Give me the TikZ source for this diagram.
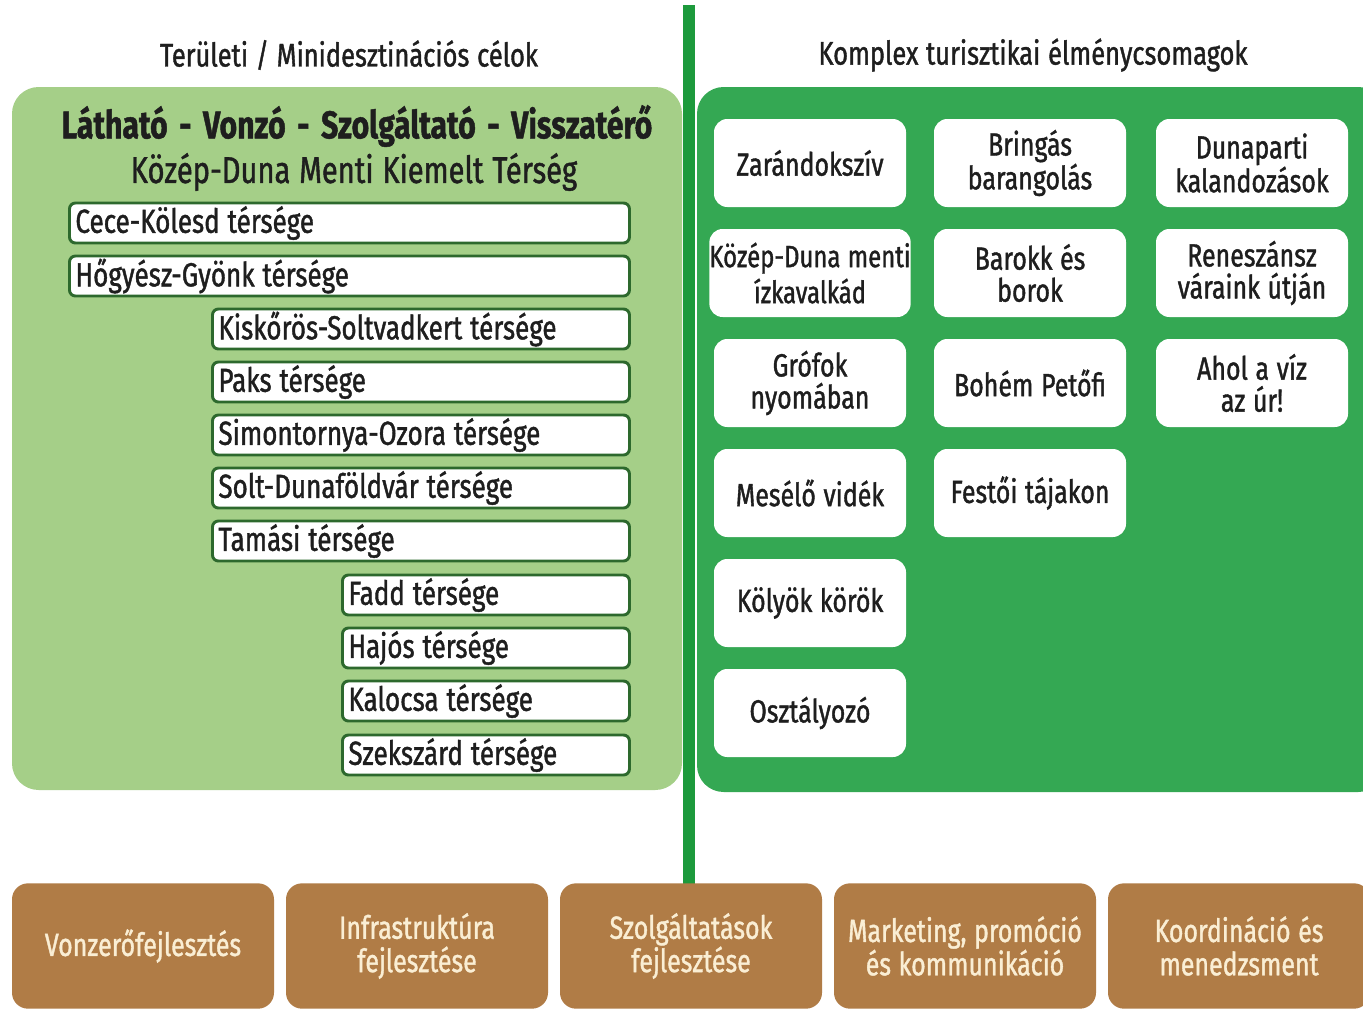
\documentclass[tikz,border=0pt]{standalone}
\usepackage{fontspec}
\setmainfont{Fira Sans}[FakeStretch=0.78, FakeBold=1.2, WordSpace=1.15]
\definecolor{lightpanel}{RGB}{165,207,136}
\definecolor{darkpanel}{RGB}{52,168,83}
\definecolor{divider}{RGB}{29,154,60}
\definecolor{boxrim}{RGB}{45,105,45}
\definecolor{pillarbrown}{RGB}{176,124,70}
\definecolor{pillartext}{RGB}{250,238,212}
\definecolor{ink}{RGB}{30,30,30}
\newcommand{\mottodash}{\hspace{2.5pt} - \hspace{2.5pt}}
\tikzset{
  coltitle/.style={text=ink, font=\fontsize{24.5}{26}\selectfont},
  areabox/.style={draw=boxrim, line width=2.2pt, fill=white, rounded corners=4.5pt,
    anchor=west, minimum height=30pt, inner xsep=4.5pt, inner ysep=0pt,
    text=ink, align=flush left, font=\fontsize{25}{26}\selectfont},
  pkgbox/.style={fill=white, rounded corners=10pt, minimum width=144pt, minimum height=66pt,
    inner sep=0pt, text=ink, align=center, font=\fontsize{24}{24}\selectfont},
  pillar/.style={fill=pillarbrown, rounded corners=12pt, minimum width=196.5pt, minimum height=94pt,
    inner sep=0pt, text=pillartext, align=center, font=\fontsize{24}{25}\selectfont}
}
\begin{document}
\begin{tikzpicture}[x=0.75pt,y=0.75pt,yscale=-1,xscale=1]
\clip (0,0) rectangle (1363,1010);
\fill[white] (0,0) rectangle (1363,1010);

% column titles
\node[coltitle] (lefttitle) at (349,55) {Területi / Minidesztinációs célok};
\node[coltitle] (righttitle) at (1033,55) {Komplex turisztikai élménycsomagok};

% panels
\fill[lightpanel, rounded corners=20pt] (12,87) rectangle (682,790);
\fill[darkpanel, rounded corners=20pt] (697,87) rectangle (1385,792);
\fill[divider] (683,5) rectangle (695,886);

% left panel heading
\node[text=ink, font=\fontsize{29}{30}\selectfont\bfseries] (motto) at (357,126) {Látható\mottodash Vonzó\mottodash Szolgáltató\mottodash Visszatérő};
\node[text=ink, font=\fontsize{28}{30}\selectfont] (region) at (354,172) {Közép-Duna Menti Kiemelt Térség};

% areas
\foreach \xl/\yc/\lbl [count=\i] in {
    68/223/Cece-Kölesd térsége,
    68/276/Hőgyész-Gyönk térsége,
    211/329/Kiskőrös-Soltvadkert térsége,
    211/382/Paks térsége,
    211/435/Simontornya-Ozora térsége,
    211/488/Solt-Dunaföldvár térsége,
    211/541/Tamási térsége,
    341/595/Fadd térsége,
    341/648/Hajós térsége,
    341/701/Kalocsa térsége,
    341/755/Szekszárd térsége}{
  \pgfmathsetlengthmacro\tw{(628-\xl)*0.75pt-9pt}
  \node[areabox, text width=\tw] (area\i) at (\xl,\yc) {\lbl};
}

% packages
\node[pkgbox] (pkg11) at (810,163) {Zarándokszív};
\node[pkgbox, font=\fontsize{23}{27}\selectfont] (pkg12) at (810,273) {Közép-Duna menti\\ízkavalkád};
\node[pkgbox] (pkg13) at (810,383) {Grófok\\nyomában};
\node[pkgbox] (pkg14) at (810,493) {Mesélő vidék};
\node[pkgbox] (pkg15) at (810,603) {Kölyök körök};
\node[pkgbox] (pkg16) at (810,713) {Osztályozó};
\node[pkgbox] (pkg21) at (1030,163) {Bringás\\barangolás};
\node[pkgbox] (pkg22) at (1030,273) {Barokk és\\borok};
\node[pkgbox] (pkg23) at (1030,383) {Bohém Petőfi};
\node[pkgbox] (pkg24) at (1030,493) {Festői tájakon};
\node[pkgbox] (pkg31) at (1252,163) {Dunaparti\\kalandozások};
\node[pkgbox] (pkg32) at (1252,273) {Reneszánsz\\váraink útján};
\node[pkgbox] (pkg33) at (1252,383) {Ahol a víz\\az úr!};

% pillars
\node[pillar] (pil1) at (143,946) {Vonzerőfejlesztés};
\node[pillar] (pil2) at (417,946) {Infrastruktúra\\fejlesztése};
\node[pillar] (pil3) at (691,946) {Szolgáltatások\\fejlesztése};
\node[pillar] (pil4) at (965,946) {Marketing, promóció\\és kommunikáció};
\node[pillar] (pil5) at (1239,946) {Koordináció és\\menedzsment};
\end{tikzpicture}
\end{document}
